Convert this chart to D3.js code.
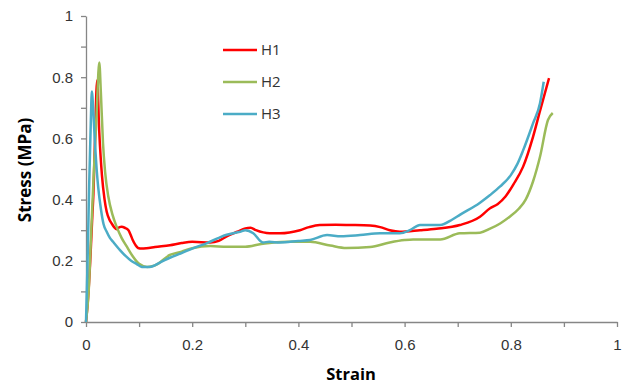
<!DOCTYPE html>
<html>
<head>
<meta charset="utf-8">
<script src="https://cdn.jsdelivr.net/npm/d3@7"></script>
<style>
  body { margin: 0; background: #fff; }
  svg { font-family: "Open Sans", "Liberation Sans", sans-serif; }
</style>
</head>
<body>
<svg id="chart" width="627" height="384"></svg>
<script>
// stress-strain curves, [strain, stress MPa]
var h1 = [[0,0],[0.004,0.08],[0.008,0.2],[0.012,0.35],[0.014,0.42],[0.017,0.6],[0.021,0.79],[0.025,0.62],[0.03,0.48],[0.035,0.4],[0.039,0.36],[0.044,0.335],[0.048,0.323],[0.053,0.31],[0.058,0.303],[0.063,0.31],[0.067,0.311],[0.073,0.308],[0.08,0.3],[0.084,0.285],[0.088,0.268],[0.093,0.252],[0.098,0.242],[0.105,0.24],[0.114,0.241],[0.13,0.245],[0.158,0.251],[0.18,0.258],[0.2,0.262],[0.234,0.26],[0.25,0.265],[0.265,0.28],[0.285,0.295],[0.3,0.306],[0.31,0.308],[0.32,0.3],[0.346,0.29],[0.365,0.29],[0.403,0.3],[0.42,0.31],[0.44,0.317],[0.47,0.318],[0.497,0.317],[0.535,0.315],[0.554,0.31],[0.572,0.3],[0.591,0.295],[0.629,0.3],[0.66,0.305],[0.704,0.317],[0.742,0.344],[0.761,0.372],[0.775,0.385],[0.79,0.41],[0.805,0.45],[0.823,0.507],[0.842,0.606],[0.855,0.69],[0.872,0.797]];
var h2 = [[0,0],[0.005,0.1],[0.01,0.3],[0.015,0.5],[0.02,0.68],[0.025,0.848],[0.028,0.75],[0.032,0.585],[0.036,0.49],[0.042,0.41],[0.05,0.35],[0.058,0.31],[0.067,0.275],[0.077,0.246],[0.088,0.215],[0.1,0.19],[0.115,0.18],[0.13,0.185],[0.158,0.219],[0.18,0.23],[0.2,0.241],[0.234,0.248],[0.265,0.246],[0.3,0.246],[0.33,0.255],[0.346,0.258],[0.38,0.262],[0.422,0.262],[0.46,0.25],[0.49,0.242],[0.535,0.245],[0.572,0.26],[0.6,0.268],[0.616,0.27],[0.667,0.27],[0.704,0.29],[0.742,0.292],[0.761,0.305],[0.78,0.322],[0.798,0.344],[0.815,0.37],[0.828,0.4],[0.842,0.46],[0.855,0.54],[0.87,0.66],[0.879,0.683]];
var h3 = [[0,0],[0.003,0.2],[0.006,0.45],[0.009,0.65],[0.011,0.753],[0.014,0.68],[0.017,0.58],[0.02,0.5],[0.023,0.44],[0.028,0.37],[0.033,0.32],[0.039,0.295],[0.045,0.275],[0.051,0.262],[0.064,0.235],[0.075,0.215],[0.085,0.2],[0.095,0.19],[0.105,0.18],[0.12,0.18],[0.14,0.195],[0.158,0.21],[0.18,0.225],[0.2,0.24],[0.228,0.258],[0.25,0.275],[0.265,0.285],[0.29,0.295],[0.3,0.3],[0.315,0.29],[0.333,0.26],[0.345,0.262],[0.365,0.26],[0.4,0.265],[0.422,0.268],[0.454,0.284],[0.48,0.28],[0.516,0.284],[0.554,0.29],[0.591,0.29],[0.61,0.3],[0.629,0.317],[0.667,0.317],[0.69,0.335],[0.704,0.35],[0.742,0.39],[0.761,0.415],[0.78,0.443],[0.8,0.48],[0.812,0.515],[0.823,0.56],[0.842,0.65],[0.855,0.715],[0.862,0.785]];

var seriesNames = ["H1", "H2", "H3"];
var seriesColors = ["#ff0000", "#9bbb59", "#4bacc6"];
var tickVals = [0, 0.1, 0.2, 0.3, 0.4, 0.5, 0.6, 0.7, 0.8, 0.9, 1];

var svg = d3.select("#chart");
var x = d3.scaleLinear().domain([0, 1]).range([86, 617]);
var y = d3.scaleLinear().domain([0, 1]).range([322, 16]);

function fmt(d) {
    var k = Math.round(d * 10);
    if (k % 2) return "";
    return k == 10 ? "1" : k == 0 ? "0" : (k / 10).toString();
}

var gx = svg.append("g").attr("transform", "translate(0,322)")
    .call(d3.axisBottom(x).tickValues(tickVals).tickFormat(fmt).tickSize(5).tickSizeOuter(0).tickPadding(12));
var gy = svg.append("g").attr("transform", "translate(86,0)")
    .call(d3.axisLeft(y).tickValues(tickVals).tickFormat(fmt).tickSize(5).tickSizeOuter(0).tickPadding(8));

[gx, gy].forEach(function (g) {
    g.select(".domain").attr("stroke", "#868686").attr("stroke-width", 1.3);
    g.selectAll(".tick line").attr("stroke", "#868686").attr("stroke-width", 1.3);
    g.selectAll("text").attr("fill", "#333").style("font-size", "15px");
});

var line = d3.line().curve(d3.curveMonotoneX)
    .x(function (d) { return x(d[0]) }).y(function (d) { return y(d[1]) });

[h1, h2, h3].forEach(function (s, i) {
    svg.append("path").datum(s)
        .attr("d", line)
        .attr("fill", "none")
        .attr("stroke", seriesColors[i])
        .attr("stroke-width", 2.5)
        .attr("stroke-linejoin", "round");
});

// legend
var legY = [50, 82, 114];
seriesNames.forEach(function (n, i) {
    svg.append("line").attr("x1", 223).attr("x2", 257).attr("y1", legY[i]).attr("y2", legY[i])
        .attr("stroke", seriesColors[i]).attr("stroke-width", 2.5);
    svg.append("text").attr("x", 261).attr("y", legY[i]).attr("dy", "0.35em")
        .attr("fill", "#333").style("font-size", "15px").text(n);
});

// axis titles
svg.append("text").attr("x", 351).attr("y", 380).attr("text-anchor", "middle")
    .attr("fill", "#000").style("font-size", "16.5px").style("font-weight", "bold").text("Strain");
svg.append("text").attr("transform", "translate(31,170) rotate(-90)").attr("text-anchor", "middle")
    .attr("fill", "#000").style("font-size", "17px").style("font-weight", "bold").text("Stress (MPa)");
</script>
</body>
</html>
